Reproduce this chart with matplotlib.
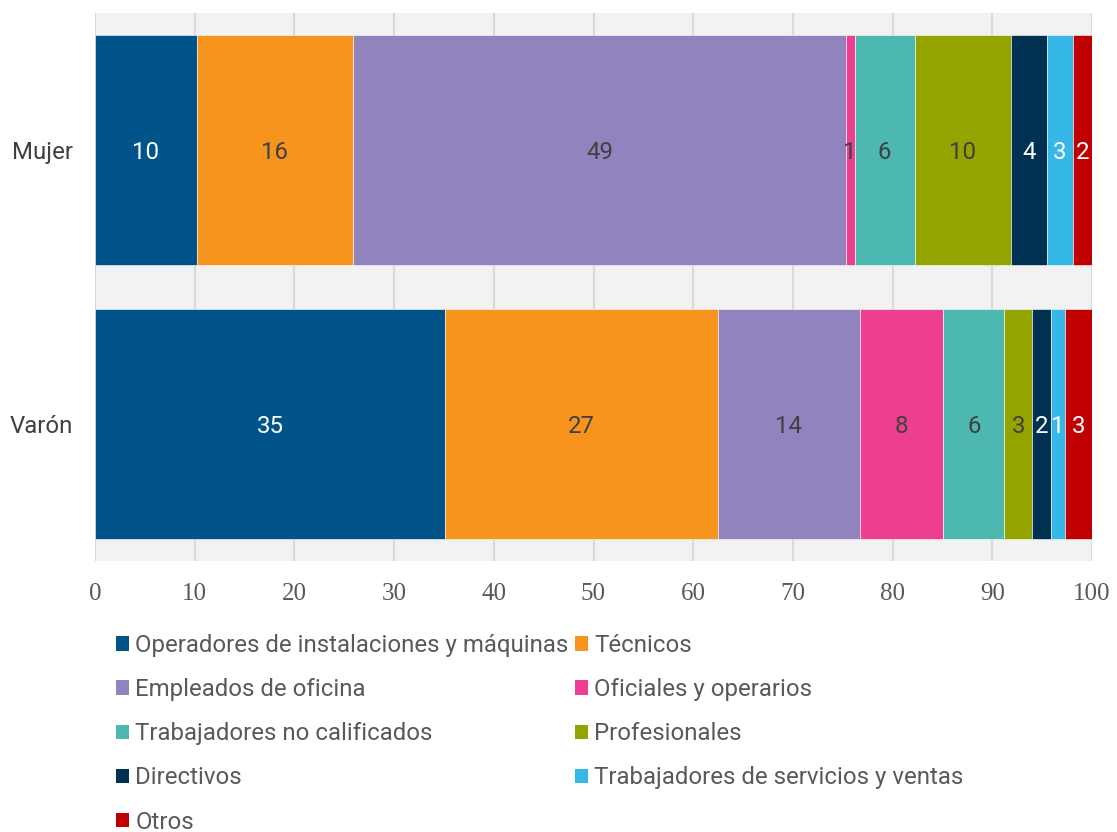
import matplotlib
matplotlib.use("Agg")
import matplotlib.pyplot as plt
from matplotlib.patches import Patch
import numpy as np

categories = ["Varón", "Mujer"]
series = ["Operadores de instalaciones y máquinas", "Técnicos", "Empleados de oficina",
          "Oficiales y operarios", "Trabajadores no calificados", "Profesionales",
          "Directivos", "Trabajadores de servicios y ventas", "Otros"]
# values per series: [Varón, Mujer]
operadores = [35.1, 10.2]
tecnicos = [27.4, 15.7]
empleados = [14.2, 49.4]
oficiales = [8.4, 0.9]
no_calificados = [6.1, 6.0]
profesionales = [2.8, 9.7]
directivos = [1.9, 3.6]
servicios = [1.4, 2.6]
otros = [2.7, 1.9]
values = [operadores, tecnicos, empleados, oficiales, no_calificados,
          profesionales, directivos, servicios, otros]
colors = ["#00548A", "#F7941D", "#9183BE", "#EE3E8F", "#4DB8B0",
          "#93A300", "#003152", "#35B8E8", "#C00000"]
label_colors = ["white", "#404040", "#404040", "#404040", "#404040",
                "#404040", "white", "white", "white"]

plt.rcParams['font.family'] = ['Roboto', 'DejaVu Sans']
fig = plt.figure(figsize=(11.17, 8.32), dpi=100)
ax = fig.add_axes([95/1117, 1-561/832, (1092-95)/1117, (561-13)/832])
ax.set_facecolor("#F2F2F2")

y = np.arange(len(categories))
left = np.zeros(len(categories))
handles = []
for name, vals, c, lc in zip(series, values, colors, label_colors):
    vals = np.array(vals)
    bars = ax.barh(y, vals, left=left, height=0.836, color=c, edgecolor="white",
                   linewidth=0.4, zorder=3, label=name)
    for b, v in zip(bars, vals):
        ax.text(b.get_x() + b.get_width()/2, b.get_y() + b.get_height()/2,
                f"{v:.0f}", ha="center", va="center_baseline", color=lc,
                fontsize=17.3, zorder=4)
    left += vals
    handles.append(Patch(facecolor=c, label=name))

ax.set_xlim(0, 100)
ax.set_ylim(-0.5, 1.5)
ax.set_xticks(np.arange(0, 101, 10))
ax.set_yticks(y)
ax.set_yticklabels(categories, fontsize=17.3, color="#404040")
for lab in ax.get_xticklabels():
    lab.set_fontfamily(["Liberation Serif", "DejaVu Serif"])
    lab.set_fontsize(18)
    lab.set_color("#595959")
ax.tick_params(axis="both", length=0)
ax.tick_params(axis="x", pad=16)
ax.tick_params(axis="y", pad=16)
ax.grid(axis="x", color="#D9D9D9", linewidth=1.5, zorder=0)
for s in ax.spines.values():
    s.set_visible(False)

order = [0, 2, 4, 6, 8, 1, 3, 5, 7]
leg = fig.legend([handles[i] for i in order], [series[i] for i in order],
                 ncol=2, loc="upper left", bbox_to_anchor=(116/1117, 1-634/832),
                 frameon=False, fontsize=17.3, handlelength=0.55, handleheight=0.55,
                 handletextpad=0.25, columnspacing=0.27, labelspacing=0.88,
                 borderaxespad=0, borderpad=0)
for t in leg.get_texts():
    t.set_color("#595959")

fig.savefig("out.png", dpi=100)
